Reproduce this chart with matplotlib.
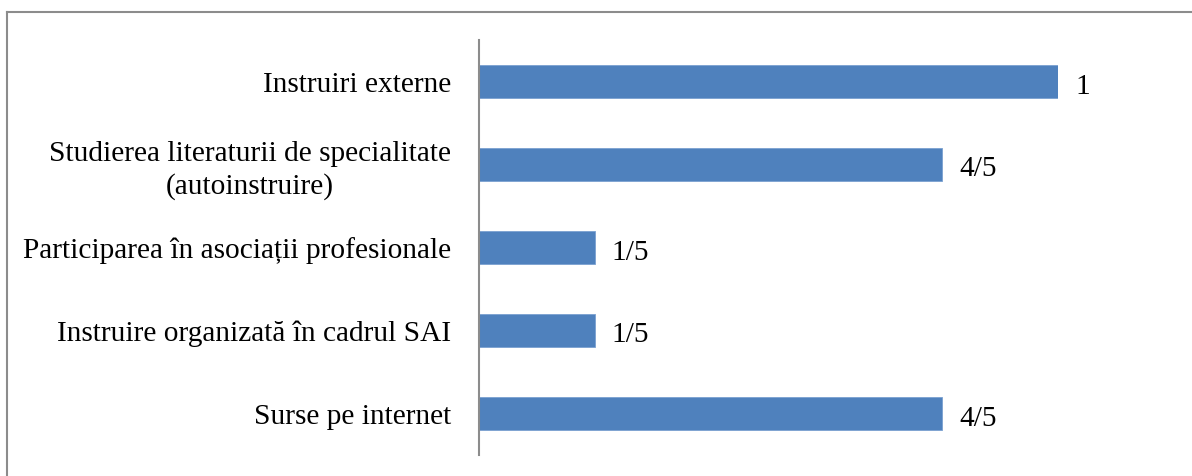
import matplotlib.pyplot as plt
from matplotlib.lines import Line2D

categories = ['Instruiri externe',
              'Studierea literaturii de specialitate\n(autoinstruire)',
              'Participarea în asociații profesionale',
              'Instruire organizată în cadrul SAI',
              'Surse pe internet']
values = [1.0, 0.8, 0.2, 0.2, 0.8]
value_labels = ['1', '4/5', '1/5', '1/5', '4/5']

plt.rcParams['font.family'] = ['Liberation Serif', 'DejaVu Serif']

W, H = 1192, 476
fs = 21.2
fig = plt.figure(figsize=(W / 100, H / 100), dpi=100)
ax = fig.add_axes([479 / W, (H - 455) / H, 579 / W, 415 / H])

pos = list(range(len(categories)))
ax.barh(pos, values, height=0.39, color='#4f81bd', edgecolor='#7aa0d0', linewidth=0.6)
ax.set_ylim(len(categories) - 0.5, -0.5)
ax.set_xlim(0, 1)

ax.set_yticks(pos)
ax.set_yticklabels(categories, fontsize=fs, multialignment='center',
                   linespacing=1.3, va='center_baseline')
ax.tick_params(axis='y', length=0, pad=20)
ax.set_xticks([])

for s in ['top', 'right', 'bottom']:
    ax.spines[s].set_visible(False)
ax.spines['left'].set_color('#8c8c8c')
ax.spines['left'].set_linewidth(1.5)

for p, v, t in zip(pos, values, value_labels):
    ax.annotate(t, (v, p), xytext=(17, -2), textcoords='offset pixels',
                va='center_baseline', ha='left', fontsize=fs, annotation_clip=False)

# outer frame (left and top edges)
fig.add_artist(Line2D([7.5 / W, 7.5 / W], [0, 1 - 12 / H], color='#8c8c8c', lw=1.5,
                      transform=fig.transFigure))
fig.add_artist(Line2D([7.5 / W, 1], [1 - 12 / H, 1 - 12 / H], color='#8c8c8c', lw=1.5,
                      transform=fig.transFigure))

fig.savefig('out.png', dpi=100)
